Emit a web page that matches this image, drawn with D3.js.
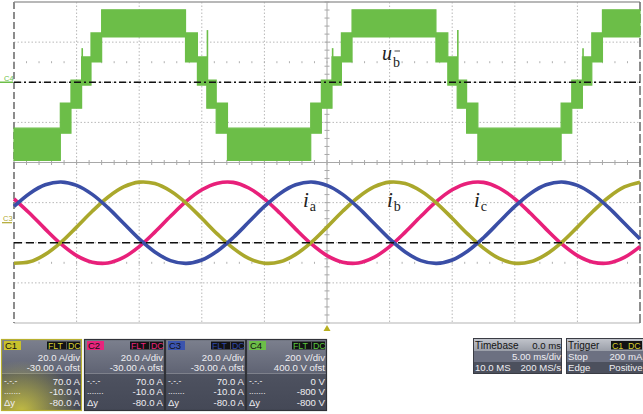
<!DOCTYPE html>
<html><head><meta charset="utf-8">
<script src="https://cdn.jsdelivr.net/npm/d3@7"></script>
<style>html,body{margin:0;padding:0;background:#fff;}svg{display:block;}</style>
</head><body>
<svg id="scope" width="643" height="414"></svg>
<script>
// ---- sample times (ms), trigger at 0 ----
const sampleMs = [-25,-23.75,-22.5,-21.25,-20,-18.75,-17.5,-16.25,-15,-13.75,-12.5,-11.25,-10,-8.75,-7.5,-6.25,
  -5,-3.75,-2.5,-1.25,0,1.25,2.5,3.75,5,6.25,7.5,8.75,10,11.25,12.5,13.75,15,16.25,17.5,18.75,20,21.25,22.5,23.75,25];

// phase currents (A)
const iaA = [8.1,14.6,18.9,20.3,18.6,14.1,7.5,-0.3,-8.1,-14.6,-18.9,-20.3,-18.6,-14.1,-7.5,0.3,
  8.1,14.6,18.9,20.3,18.6,14.1,7.5,-0.3,-8.1,-14.6,-18.9,-20.3,-18.6,-14.1,-7.5,0.3,
  8.1,14.6,18.9,20.3,18.6,14.1,7.5,-0.3,-8.1];
const ibA = [-20.2,-19.5,-15.8,-9.8,-2.2,5.7,12.7,17.8,20.2,19.5,15.8,9.8,2.2,-5.7,-12.7,-17.8,
  -20.2,-19.5,-15.8,-9.8,-2.2,5.7,12.7,17.8,20.2,19.5,15.8,9.8,2.2,-5.7,-12.7,-17.8,
  -20.2,-19.5,-15.8,-9.8,-2.2,5.7,12.7,17.8,20.2];
const icA = [11.9,4.7,-3.2,-10.6,-16.4,-19.7,-20.1,-17.3,-11.9,-4.7,3.2,10.6,16.4,19.7,20.1,17.3,
  11.9,4.7,-3.2,-10.6,-16.4,-19.7,-20.1,-17.3,-11.9,-4.7,3.2,10.6,16.4,19.7,20.1,17.3,
  11.9,4.7,-3.2,-10.6,-16.4,-19.7,-20.1,-17.3,-11.9];

// multilevel phase voltage: switching band entered at each time (ms)
const vStepMs   = [-25,-21.3,-20.45,-19.6,-18.85,-18.0,-11.3,-10.35,-9.6,-8.85,-7.95,-1.3,-0.45,0.4,1.15,2.0,
  8.7,9.65,10.4,11.15,12.05,18.7,19.55,20.4,21.15,22.0,25];
const vStepBand = [-3,-2,-1,0,1,2,1,0,-1,-2,-3,-2,-1,0,1,2,1,0,-1,-2,-3,-2,-1,0,1,2,2];
// band extent (V) for band index -3..2
const bandLowV  = [-389,-254,-129,-14,101,226];
const bandHighV = [-229,-104,11,126,246,361];
// switching spikes
const spikeMs = [-19.55,-9.55,0.45,10.45,20.45];
const spikeV  = [170,260,170,260,170];

// cursors
const cursorDashDotA = 70, cursorDashedA = -10;

// readout panels
const chNames   = ["C1","C2","C3","C4"];
const chScale   = ["20.0 A/div","20.0 A/div","20.0 A/div","200 V/div"];
const chOffset  = ["-30.00 A ofst","-30.00 A ofst","-30.00 A ofst","400.0 V ofst"];
const chCurA    = ["70.0 A","70.0 A","70.0 A","0 V"];
const chCurB    = ["-10.0 A","-10.0 A","-10.0 A","-800 V"];
const chDelta   = ["-80.0 A","-80.0 A","-80.0 A","-800 V"];
const chColor   = ["#c9c12c","#e8247c","#3b54ad","#6cbe48"];
const chTextCol = ["#d6cf2e","#e8247c","#2f48a8","#58c63c"];

const svg = d3.select("#scope");
const P = {l:14, r:640, t:2, b:323};
const x  = d3.scaleLinear().domain([-25,25]).range([P.l,P.r]);
const yA = d3.scaleLinear().domain([-50,110]).range([P.b,P.t]);
const yV = d3.scaleLinear().domain([-1200,400]).range([P.b,P.t]);

const gridMs = [-20,-15,-10,-5,5,10,15,20];
const gridA  = [90,70,50,10,-10,-30];

// ---- graticule ----
const g = svg.append("g");
g.selectAll(".gv").data(gridMs).join("line")
  .attr("x1",d=>x(d)).attr("x2",d=>x(d)).attr("y1",P.t).attr("y2",P.b)
  .attr("stroke","#b8b8b8").attr("stroke-width",1).attr("stroke-dasharray","1.5,2");
g.selectAll(".gh").data(gridA).join("line")
  .attr("x1",P.l).attr("x2",P.r).attr("y1",d=>yA(d)).attr("y2",d=>yA(d))
  .attr("stroke","#b8b8b8").attr("stroke-width",1).attr("stroke-dasharray","1.5,2");
// centre axes
g.append("line").attr("x1",x(0)).attr("x2",x(0)).attr("y1",P.t).attr("y2",P.b).attr("stroke","#a8a8a8");
g.append("line").attr("x1",P.l).attr("x2",P.r).attr("y1",yA(30)).attr("y2",yA(30)).attr("stroke","#a8a8a8");
const minorMs = d3.range(-25,25.01,1);
g.selectAll(".mt").data(minorMs).join("line")
  .attr("x1",d=>x(d)).attr("x2",d=>x(d)).attr("y1",yA(30)-2.5).attr("y2",yA(30)+2.5).attr("stroke","#a8a8a8");
[80,-20].forEach(a=>{
  g.selectAll(null).data(minorMs).join("line")
    .attr("x1",d=>x(d)).attr("x2",d=>x(d)).attr("y1",yA(a)-1).attr("y2",yA(a)+1).attr("stroke","#b0b0b0");
});
const minorA = d3.range(-50,110.01,4);
g.selectAll(".mv").data(minorA).join("line")
  .attr("x1",x(0)-2.5).attr("x2",x(0)+2.5).attr("y1",d=>yA(d)).attr("y2",d=>yA(d)).attr("stroke","#a8a8a8");
// frame
g.append("line").attr("x1",P.l).attr("x2",P.r).attr("y1",P.t).attr("y2",P.t).attr("stroke","#a0a0a0").attr("stroke-width",1.5);
g.append("line").attr("x1",P.l).attr("x2",P.r).attr("y1",P.b).attr("y2",P.b).attr("stroke","#b4b4b4").attr("stroke-width",1.2);
g.append("line").attr("x1",P.l).attr("x2",P.l).attr("y1",P.t).attr("y2",P.b).attr("stroke","#8c8c8c").attr("stroke-width",2).attr("stroke-dasharray","7,3");
g.append("line").attr("x1",P.r).attr("x2",P.r).attr("y1",P.t).attr("y2",P.b).attr("stroke","#6a6a6a").attr("stroke-width",1.5).attr("stroke-dasharray","9,3");

// ---- phase voltage band ----
const vPts = vStepMs.map((t,i)=>({t, lo:bandLowV[vStepBand[i]+3], hi:bandHighV[vStepBand[i]+3]}));
const area = d3.area().curve(d3.curveStepAfter).x(d=>x(d.t)).y0(d=>yV(d.lo)).y1(d=>yV(d.hi));
svg.append("path").datum(vPts).attr("d",area)
  .attr("fill","#6cbe48").attr("stroke","#6cbe48").attr("stroke-width",1.2);
svg.selectAll(".spk").data(spikeMs).join("line")
  .attr("x1",d=>x(d)).attr("x2",d=>x(d))
  .attr("y1",(d,i)=>yV(spikeV[i])).attr("y2",yV(0))
  .attr("stroke","#6cbe48").attr("stroke-width",1.6);

// ---- currents ----
const line = d3.line().curve(d3.curveCatmullRom.alpha(0.5)).x((d,i)=>x(sampleMs[i])).y(d=>yA(d));
[[icA,"#e8207a"],[ibA,"#aaa82c"],[iaA,"#3a4ea6"]].forEach(([s,c])=>{
  svg.append("path").datum(s).attr("d",line).attr("fill","none")
    .attr("stroke",c).attr("stroke-width",3.6).attr("stroke-linejoin","round");
});

// ---- cursors ----
svg.append("line").attr("x1",P.l).attr("x2",P.r).attr("y1",yA(cursorDashDotA)).attr("y2",yA(cursorDashDotA))
  .attr("stroke","#111").attr("stroke-width",1.3).attr("stroke-dasharray","7,3,2,3");
svg.append("line").attr("x1",P.l).attr("x2",P.r).attr("y1",yA(cursorDashedA)).attr("y2",yA(cursorDashedA))
  .attr("stroke","#111").attr("stroke-width",1.3).attr("stroke-dasharray","8,4");

// ---- channel ground markers ----
svg.append("line").attr("x1",0).attr("x2",13).attr("y1",yV(0)).attr("y2",yV(0)).attr("stroke","#6cbe48").attr("stroke-width",1.5);
svg.append("text").attr("x",4).attr("y",yV(0)-1.5).text("C4")
  .attr("font-family","Liberation Sans, Arial, sans-serif").attr("font-size",7.5).attr("fill","#6cbe48");
svg.append("line").attr("x1",2).attr("x2",12).attr("y1",yA(0)).attr("y2",yA(0)).attr("stroke","#b0a830").attr("stroke-width",1.2);
svg.append("text").attr("x",3).attr("y",yA(0)-2).text("C3")
  .attr("font-family","Liberation Sans, Arial, sans-serif").attr("font-size",7.5).attr("fill","#b0a830");

// ---- trigger position marker ----
svg.append("path").attr("d",`M${x(0)-3.5},${P.b+8}L${x(0)},${P.b+2}L${x(0)+3.5},${P.b+8}Z`).attr("fill","#b8b020");

// ---- waveform labels ----
const serif = "Liberation Serif, Times New Roman, serif";
const labs = [["a",303],["b",387],["c",474]];
labs.forEach(([s,lx])=>{
  const t = svg.append("text").attr("x",lx).attr("y",207).attr("font-family",serif).attr("fill","#222");
  t.append("tspan").text("i").attr("font-style","italic").attr("font-size",21);
  t.append("tspan").text(s).attr("font-size",14).attr("dx",1).attr("dy",3.5);
});
const ut = svg.append("text").attr("x",382).attr("y",59.5).attr("font-family",serif).attr("fill","#222");
ut.append("tspan").text("u").attr("font-style","italic").attr("font-size",20);
ut.append("tspan").text("b").attr("font-size",14).attr("dx",1).attr("dy",7);
svg.append("line").attr("x1",394.5).attr("x2",400).attr("y1",51).attr("y2",51).attr("stroke","#333").attr("stroke-width",0.9);

// ---- readout panels ----
const defs = svg.append("defs");
const gU = defs.append("linearGradient").attr("id","gUp").attr("x1",0).attr("x2",0).attr("y1",0).attr("y2",1);
gU.append("stop").attr("offset","0%").attr("stop-color","#7c808e");
gU.append("stop").attr("offset","100%").attr("stop-color","#5f6373");
const gL = defs.append("linearGradient").attr("id","gLo").attr("x1",0).attr("x2",0).attr("y1",0).attr("y2",1);
gL.append("stop").attr("offset","0%").attr("stop-color","#4e5260");
gL.append("stop").attr("offset","100%").attr("stop-color","#444856");
const gH = defs.append("linearGradient").attr("id","gHd").attr("x1",0).attr("x2",0).attr("y1",0).attr("y2",1);
gH.append("stop").attr("offset","0%").attr("stop-color","#c3c6cd");
gH.append("stop").attr("offset","100%").attr("stop-color","#9a9ea8");
const gG = defs.append("radialGradient").attr("id","gGlow").attr("cx","25%").attr("cy","100%").attr("r","70%");
gG.append("stop").attr("offset","0%").attr("stop-color","#d8d040").attr("stop-opacity",0.85);
gG.append("stop").attr("offset","100%").attr("stop-color","#d8d040").attr("stop-opacity",0);

const sans = "Liberation Sans, Arial, sans-serif";
const fs = 9.6;
const boxX = [1,84,165,246], boxW = 81, boxY = 339, boxH = 72, split = 373.5;
chNames.forEach((n,i)=>{
  const bx = boxX[i], pg = svg.append("g");
  pg.append("rect").attr("x",bx).attr("y",boxY).attr("width",boxW).attr("height",split-boxY).attr("fill","url(#gUp)");
  pg.append("rect").attr("x",bx).attr("y",split).attr("width",boxW).attr("height",boxY+boxH-split).attr("fill","url(#gLo)");
  if(i===0) pg.append("rect").attr("x",bx).attr("y",boxY).attr("width",boxW).attr("height",boxH).attr("fill","url(#gGlow)");
  pg.append("rect").attr("x",bx+0.5).attr("y",boxY+0.5).attr("width",boxW-1).attr("height",boxH-1)
    .attr("fill","none").attr("stroke",i===0?"#b8b030":"#303238").attr("stroke-width",1.2);
  // header chips
  pg.append("rect").attr("x",bx+3).attr("y",341).attr("width",17).attr("height",9).attr("fill",chColor[i]);
  pg.append("text").attr("x",bx+4).attr("y",349).text(n).attr("font-family",sans).attr("font-size",9.5).attr("fill","#111");
  pg.append("rect").attr("x",bx+46).attr("y",341.5).attr("width",33).attr("height",8).attr("fill","#121214");
  pg.append("text").attr("x",bx+47).attr("y",349).text("FLT").attr("font-family",sans).attr("font-size",8.8).attr("fill",chTextCol[i]);
  pg.append("line").attr("x1",bx+65.5).attr("x2",bx+65.5).attr("y1",341.5).attr("y2",349.5).attr("stroke","#555");
  pg.append("text").attr("x",bx+67).attr("y",349).text("DC").attr("font-family",sans).attr("font-size",8.8).attr("fill",chTextCol[i]);
  const R = (txt,y)=>pg.append("text").attr("x",bx+boxW-2).attr("y",y).attr("text-anchor","end").text(txt)
     .attr("font-family",sans).attr("font-size",fs).attr("fill","#eeeef2");
  const L = (txt,y,sz)=>pg.append("text").attr("x",bx+3).attr("y",y).text(txt)
     .attr("font-family",sans).attr("font-size",sz||fs).attr("fill","#eeeef2");
  R(chScale[i],361); R(chOffset[i],371); R(chCurA[i],385); R(chCurB[i],395); R(chDelta[i],406);
  L("-.-.-",384,8.5); L(".......",394,8.5); L("Δy",406,9.5);
});

// timebase / trigger
function infoBox(bx,w,title){
  const pg = svg.append("g");
  pg.append("rect").attr("x",bx).attr("y",338).attr("width",w).attr("height",13).attr("fill","url(#gHd)");
  pg.append("rect").attr("x",bx).attr("y",351).attr("width",w).attr("height",11).attr("fill","#6c7081");
  pg.append("rect").attr("x",bx).attr("y",362).attr("width",w).attr("height",11.5).attr("fill","#4c505d");
  pg.append("rect").attr("x",bx+0.5).attr("y",338.5).attr("width",w-1).attr("height",35).attr("fill","none").attr("stroke","#3a3c44");
  pg.append("text").attr("x",bx+2).attr("y",349).text(title).attr("font-family",sans).attr("font-size",10).attr("fill","#141414");
  return pg;
}
const T = (pg,txt,tx,ty,anchor,col)=>pg.append("text").attr("x",tx).attr("y",ty).attr("text-anchor",anchor)
  .text(txt).attr("font-family",sans).attr("font-size",fs).attr("fill",col);
const tb = infoBox(473,89,"Timebase");
T(tb,"0.0 ms",561,349,"end","#141414");
T(tb,"5.00 ms/div",561,360,"end","#eeeef2");
T(tb,"10.0 MS",475,371,"start","#eeeef2");
T(tb,"200 MS/s",561,371,"end","#eeeef2");
const tr = infoBox(566,80,"Trigger");
tr.append("rect").attr("x",611).attr("y",341).attr("width",31).attr("height",8.5).attr("fill","#121214");
tr.append("text").attr("x",612).attr("y",349).text("C1").attr("font-family",sans).attr("font-size",8.8).attr("fill","#d6cf2e");
tr.append("text").attr("x",628).attr("y",349).text("DC").attr("font-family",sans).attr("font-size",8.8).attr("fill","#d6cf2e");
T(tr,"Stop",568,360,"start","#eeeef2");
T(tr,"200 mA",642.5,360,"end","#eeeef2");
T(tr,"Edge",568,371,"start","#eeeef2");
T(tr,"Positive",642.5,371,"end","#eeeef2");
</script>
</body></html>
